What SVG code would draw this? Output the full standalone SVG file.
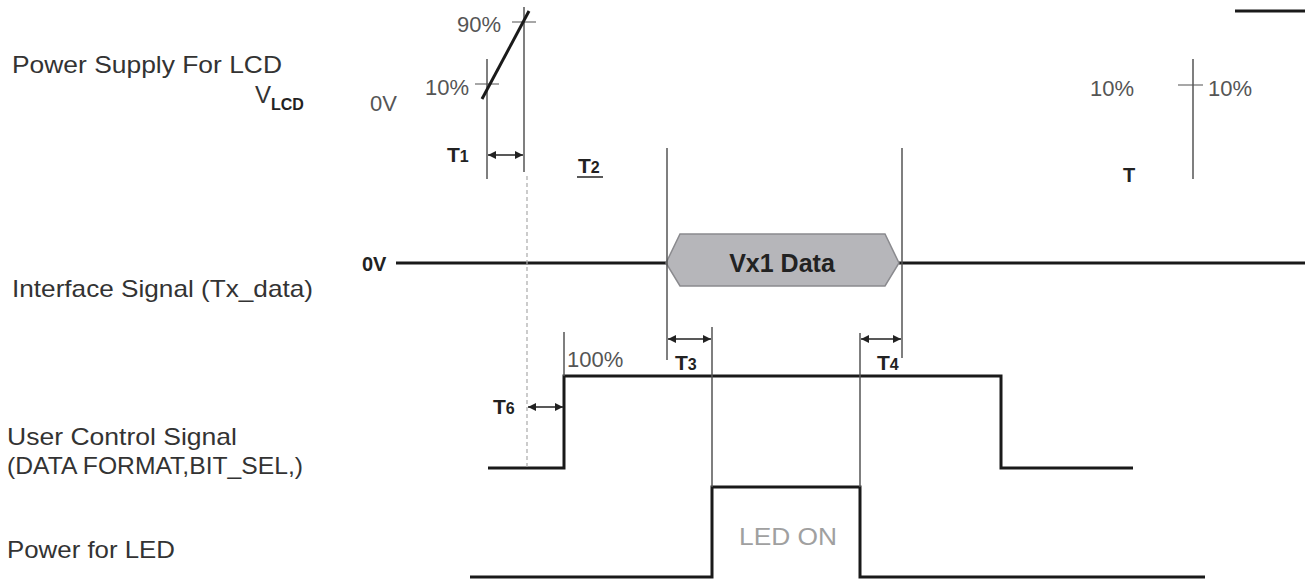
<svg xmlns="http://www.w3.org/2000/svg" width="1309" height="580" viewBox="0 0 1309 580">
<style>
.lbl{font-family:"Liberation Sans",Arial,sans-serif;font-size:24px;fill:#333}
.pct{font-family:"Liberation Sans",Arial,sans-serif;font-size:22px;fill:#555}
.tb{font-family:"Liberation Sans",Arial,sans-serif;font-weight:bold;fill:#222}
.sig{fill:none;stroke:#1a1a1a;stroke-width:3;stroke-linejoin:miter}
.thin{fill:none;stroke:#555;stroke-width:1.5}
.tick{fill:none;stroke:#777;stroke-width:1.3}
.dot{fill:none;stroke:#aaa;stroke-width:1.2;stroke-dasharray:4 3}
.arr{fill:none;stroke:#222;stroke-width:1.3;marker-start:url(#ah);marker-end:url(#ah)}
</style>
<defs>
<marker id="ah" viewBox="0 0 10 10" refX="10" refY="5" markerWidth="10" markerHeight="8" markerUnits="userSpaceOnUse" orient="auto-start-reverse">
<path d="M0,0 L10,5 L0,10 z" fill="#222"/>
</marker>
</defs>
<rect width="1309" height="580" fill="#fff"/>

<g id="labels">
<text class="lbl" x="12" y="73" textLength="270" lengthAdjust="spacingAndGlyphs">Power Supply For LCD</text>
<text class="lbl" x="255" y="103">V<tspan class="tb" font-size="16" dy="7">LCD</tspan></text>
<text class="lbl" x="12" y="297" textLength="301" lengthAdjust="spacingAndGlyphs">Interface Signal (Tx_data)</text>
<text class="lbl" x="7" y="445" textLength="230" lengthAdjust="spacingAndGlyphs">User Control Signal</text>
<text class="lbl" x="7" y="474" textLength="296" lengthAdjust="spacingAndGlyphs">(DATA FORMAT,BIT_SEL,)</text>
<text class="lbl" x="7" y="558" textLength="168" lengthAdjust="spacingAndGlyphs">Power for LED</text>
</g>

<g id="vlcd">
<text class="pct" x="370" y="111">0V</text>
<text class="pct" x="457" y="32">90%</text>
<text class="pct" x="425" y="95">10%</text>
<line class="tick" x1="512" y1="22" x2="536" y2="22"/>
<line class="tick" x1="475" y1="84" x2="499" y2="84"/>
<line class="thin" x1="487" y1="59" x2="487" y2="179"/>
<line class="thin" x1="524" y1="7" x2="524" y2="172"/>
<line class="sig" x1="482" y1="99" x2="529" y2="11"/>
<line class="sig" x1="1235" y1="11" x2="1305" y2="11"/>
<text class="pct" x="1090" y="96">10%</text>
<text class="pct" x="1208" y="96">10%</text>
<line class="tick" x1="1178" y1="85" x2="1203" y2="85"/>
<line class="thin" x1="1193" y1="59" x2="1193" y2="179"/>
<text class="tb" font-size="20" x="1123" y="182">T</text>
</g>

<g id="interface">
<text class="tb" font-size="20" x="362" y="271">0V</text>
<line class="sig" x1="396" y1="263" x2="667" y2="263"/>
<line class="sig" x1="899" y1="263" x2="1305" y2="263"/>
<polygon points="666,263 680,234 885,234 899,263 885,286 680,286" fill="#b6b6ba" stroke="#8a8a8e" stroke-width="1.5"/>
<text class="tb" font-size="25" x="782" y="272" text-anchor="middle">Vx1 Data</text>
<line class="thin" x1="667" y1="148" x2="667" y2="360"/>
<line class="thin" x1="902" y1="148" x2="902" y2="358"/>
</g>

<g id="user-control">
<polyline class="sig" points="488,468 564,468 564,376 1001,376 1001,468 1133,468"/>
<line class="thin" x1="564" y1="332" x2="564" y2="376"/>
<text class="pct" x="567" y="367">100%</text>
</g>

<g id="led">
<polyline class="sig" points="470,577 712,577 712,487 860,487 860,577 1205,577"/>
<text x="739" y="545" font-family="'Liberation Sans',Arial,sans-serif" font-size="23" fill="#a0a0a0" textLength="98" lengthAdjust="spacingAndGlyphs">LED ON</text>
</g>

<g id="connectors">
<line class="dot" x1="527" y1="176" x2="527" y2="468"/>
<line class="thin" x1="712" y1="327" x2="712" y2="487"/>
<line class="thin" x1="860" y1="333" x2="860" y2="487"/>
<line class="arr" x1="488" y1="155" x2="523" y2="155"/>
<line class="arr" x1="668" y1="339" x2="711" y2="339"/>
<line class="arr" x1="861" y1="339" x2="901" y2="339"/>
<line class="arr" x1="528" y1="407" x2="563" y2="407"/>
</g>

<g id="timing-labels">
<text class="tb" font-size="21" x="447" y="162">T<tspan font-size="16">1</tspan></text>
<text class="tb" font-size="21" x="578" y="173">T<tspan font-size="16">2</tspan></text>
<line x1="577" y1="177" x2="603" y2="177" stroke="#222" stroke-width="1.5"/>
<text class="tb" font-size="21" x="675" y="370">T<tspan font-size="16">3</tspan></text>
<text class="tb" font-size="21" x="877" y="370">T<tspan font-size="16">4</tspan></text>
<text class="tb" font-size="21" x="493" y="414">T<tspan font-size="16">6</tspan></text>
</g>
</svg>
